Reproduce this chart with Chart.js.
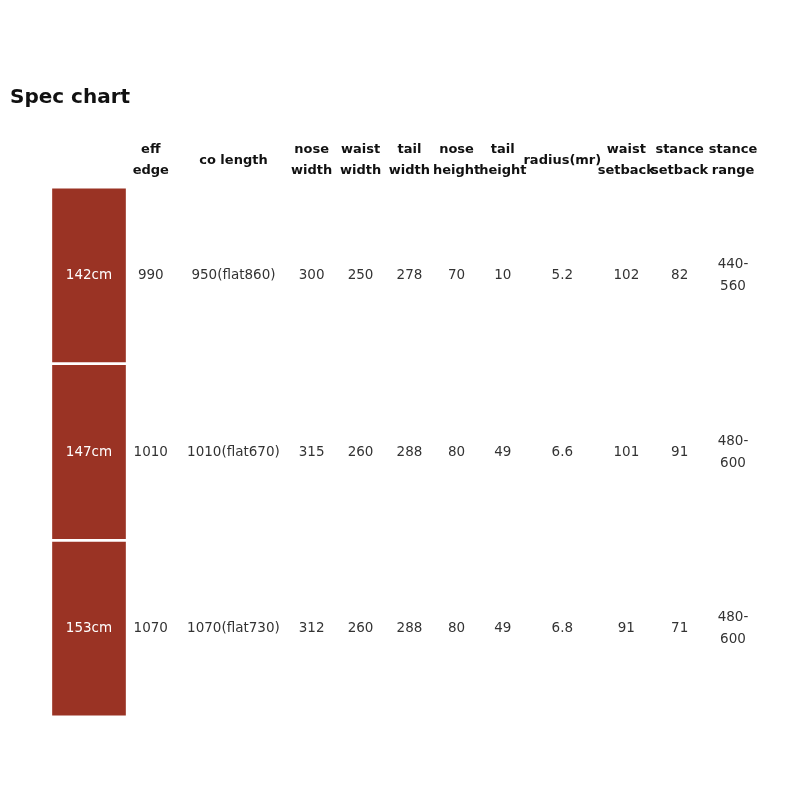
<!DOCTYPE html>
<html>
<head>
<meta charset="utf-8">
<script src="https://cdn.jsdelivr.net/npm/chart.js@4/dist/chart.umd.min.js"></script>
<style>
  body { margin: 0; background: #fff; }
  #wrap { width: 800px; height: 800px; }
</style>
</head>
<body>
<div id="wrap"><canvas id="spec"></canvas></div>
<script>
const columns = [
  [''], ['eff', 'edge'], ['co length'], ['nose', 'width'], ['waist', 'width'], ['tail', 'width'],
  ['nose', 'height'], ['tail', 'height'], ['radius(mr)'], ['waist', 'setback'], ['stance', 'setback'], ['stance', 'range'],
];
const sizes = ['142cm', '147cm', '153cm'];
const effEdge = ['990', '1010', '1070'];
const coLength = ['950(flat860)', '1010(flat670)', '1070(flat730)'];
const noseWidth = ['300', '315', '312'];
const waistWidth = ['250', '260', '260'];
const tailWidth = ['278', '288', '288'];
const noseHeight = ['70', '80', '80'];
const tailHeight = ['10', '49', '49'];
const radius = ['5.2', '6.6', '6.8'];
const waistSetback = ['102', '101', '91'];
const stanceSetback = ['82', '91', '71'];
const stanceRange = [['440-', '560'], ['480-', '600'], ['480-', '600']];

const cellColumns = [sizes, effEdge, coLength, noseWidth, waistWidth, tailWidth,
  noseHeight, tailHeight, radius, waistSetback, stanceSetback, stanceRange];

// layout: column widths in px (style, not data)
const colWidths = [73, 66, 120, 56, 54, 56, 50, 54, 80, 64, 56, 64];
const tableLeft = 13;
const colCenters = [];
colWidths.reduce((acc, w) => { colCenters.push(acc + w / 2); return acc + w; }, tableLeft);

const red = '#9a3324';
const FONT = 'Verdana, "DejaVu Sans", sans-serif';

const datasets = sizes.map((s, i) => ({
  label: s,
  data: [{ x: colCenters[0], y: [i + 0.01, i + 0.99] }],
  backgroundColor: red,
  grouped: false,
  barThickness: colWidths[0],
}));

const tablePlugin = {
  id: 'tableText',
  afterDatasetsDraw(chart) {
    const { ctx, chartArea } = chart;
    const x = chart.scales.x;
    const y = chart.scales.y;
    ctx.save();
    ctx.textAlign = 'center';
    ctx.textBaseline = 'middle';
    ctx.fillStyle = '#111';
    ctx.font = `bold 13px ${FONT}`;
    columns.forEach((lines, ci) => {
      const px = x.getPixelForValue(colCenters[ci]);
      if (lines.length === 2) {
        ctx.fillText(lines[0], px, chartArea.top - 37);
        ctx.fillText(lines[1], px, chartArea.top - 16);
      } else {
        ctx.fillText(lines[0], px, chartArea.top - 26);
      }
    });
    ctx.font = `13.5px ${FONT}`;
    cellColumns.forEach((vals, ci) => {
      const px = x.getPixelForValue(colCenters[ci]);
      ctx.fillStyle = ci === 0 ? '#fff' : '#333';
      vals.forEach((v, ri) => {
        const py = y.getPixelForValue(ri + 0.5);
        if (Array.isArray(v)) {
          ctx.fillText(v[0], px, py - 11);
          ctx.fillText(v[1], px, py + 11);
        } else {
          ctx.fillText(v, px, py);
        }
      });
    });
    ctx.restore();
  },
};

new Chart(document.getElementById('spec'), {
  type: 'bar',
  data: { datasets },
  options: {
    responsive: true,
    maintainAspectRatio: false,
    animation: false,
    layout: { padding: { left: 10, right: 0, top: 0, bottom: 83 } },
    scales: {
      x: { type: 'linear', display: false, min: 10, max: 800 },
      y: { display: false, min: 0, max: 3, reverse: true },
    },
    plugins: {
      legend: { display: false },
      tooltip: { enabled: false },
      title: {
        display: true,
        text: 'Spec chart',
        align: 'start',
        color: '#111',
        font: { family: FONT, size: 20, weight: 'bold' },
        padding: { top: 86, bottom: 77 },
      },
    },
  },
  plugins: [tablePlugin],
});
</script>
</body>
</html>
